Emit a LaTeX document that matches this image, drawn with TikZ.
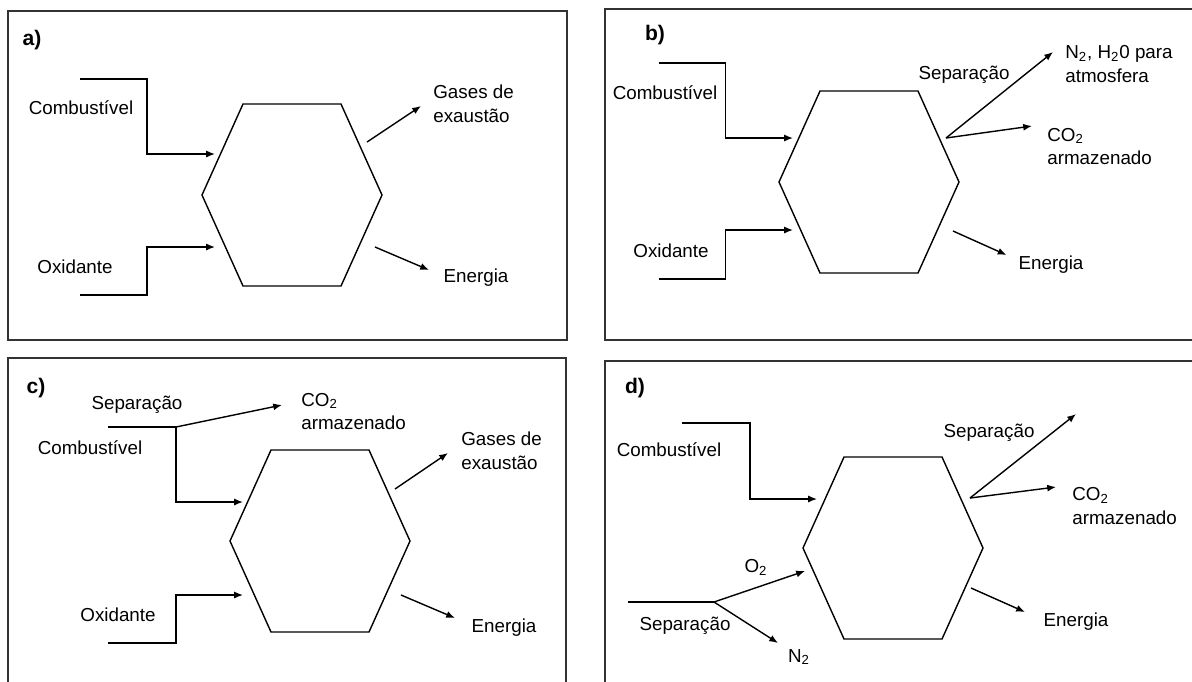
\documentclass[tikz,border=0pt]{standalone}
\usepackage{fontspec}
\setmainfont{Liberation Sans}
\usetikzlibrary{arrows.meta}
\tikzset{
  frame/.style={line width=0.9pt, color=black!80},
  flow/.style={line width=0.8pt},
  feed/.style={line width=0.8pt, -{Latex[length=5pt,width=4pt]}},
  lbl/.style={inner sep=0pt, font=\fontsize{10.7}{13.6}\selectfont, align=left},
  tag/.style={inner sep=0pt, font=\fontsize{12}{14}\selectfont\bfseries}
}
\def\reactor(#1){\draw[flow] (#1) -- ++(41,-91) -- ++(98,0) -- ++(41,91) -- ++(-41,91) -- ++(-98,0) -- cycle;}

\begin{document}
\begin{tikzpicture}[x=0.02cm, y=-0.02cm]
			%%%%% START %%%%%
			\useasboundingbox (0,0) rectangle (1192,681);
			\clip (0,0) rectangle (1192,681);
			
			%%%%% a) %%%%%
			\draw[frame] (8,11) rectangle (567,340);
			\node[tag] (tagA) at (32,40) {a)};
			\coordinate (hexA) at (202,195);
			\reactor(hexA);
			
			\coordinate (combA0) at (80,79);
			\coordinate (combA1) at (147,79);
			\coordinate (combA2) at (215,154);
			\draw[feed] (combA0) -- (combA1) |- (combA2);
			\node[lbl] (combA) at (81,108) {Combustível};
			
			\coordinate (oxA0) at (80,295);
			\coordinate (oxA1) at (147,295);
			\coordinate (oxA2) at (215,247);
			\draw[feed] (oxA0) -- (oxA1) |- (oxA2);
			\node[lbl] (oxA) at (75,267) {Oxidante};
			
			\coordinate (gasA0) at (367,142);
			\coordinate (gasA1) at (421,106);
			\draw[feed] (gasA0) -- (gasA1);
			\node[lbl, anchor=west] (gasA) at (433,103.5) {Gases de\\exaustão};
			
			\coordinate (enA0) at (375,247);
			\coordinate (enA1) at (429,270);
			\draw[feed] (enA0) -- (enA1);
			\node[lbl] (enA) at (476,278) {Energia};
			
			%%%%% b) %%%%%
			\draw[frame] (605,9) rectangle (1210,340);
			\node[tag] (tagB) at (655,35) {b)};
			\coordinate (hexB) at (779,182);
			\reactor(hexB);
			
			\coordinate (combB0) at (659,63);
			\coordinate (combB1) at (725.5,63);
			\coordinate (combB2) at (793,138);
			\draw[feed] (combB0) -- (combB1) |- (combB2);
			\node[lbl] (combB) at (665,93) {Combustível};
			
			\coordinate (oxB0) at (659,279);
			\coordinate (oxB1) at (725.5,279);
			\coordinate (oxB2) at (793,230);
			\draw[feed] (oxB0) -- (oxB1) |- (oxB2);
			\node[lbl] (oxB) at (671,251) {Oxidante};
			
			\coordinate (sepB0) at (946,138);
			\coordinate (sepB1) at (1053,52);
			\coordinate (sepB2) at (1032,126);
			\draw[feed] (sepB0) -- (sepB1);
			\draw[feed] (sepB0) -- (sepB2);
			\node[lbl] (sepB) at (964,75) {Separação};
			\node[lbl, anchor=west] (atmB) at (1065,64) {N\textsubscript{2}, H\textsubscript{2}0 para\\atmosfera};
			\node[lbl, anchor=west] (co2B) at (1047,146.5) {CO\textsubscript{2}\\armazenado};
			
			\coordinate (enB0) at (953,231);
			\coordinate (enB1) at (1006.5,255);
			\draw[feed] (enB0) -- (enB1);
			\node[lbl] (enB) at (1051,265) {Energia};
			
			%%%%% c) %%%%%
			\draw[frame] (8,358) rectangle (566,700);
			\node[tag] (tagC) at (36,388) {c)};
			\coordinate (hexC) at (230,541);
			\reactor(hexC);
			
			\coordinate (combC0) at (108,427);
			\coordinate (combC1) at (176,427);
			\coordinate (combC2) at (243,502);
			\draw[feed] (combC0) -- (combC1) |- (combC2);
			\node[lbl] (combC) at (90,448) {Combustível};
			
			\coordinate (sepC1) at (282,405);
			\draw[feed] (combC1) -- (sepC1);
			\node[lbl] (sepC) at (137,405) {Separação};
			\node[lbl, anchor=west] (co2C) at (301,411.5) {CO\textsubscript{2}\\armazenado};
			
			\coordinate (oxC0) at (108,643);
			\coordinate (oxC1) at (176,643);
			\coordinate (oxC2) at (243,595);
			\draw[feed] (oxC0) -- (oxC1) |- (oxC2);
			\node[lbl] (oxC) at (118,615) {Oxidante};
			
			\coordinate (gasC0) at (395,489);
			\coordinate (gasC1) at (448,453);
			\draw[feed] (gasC0) -- (gasC1);
			\node[lbl, anchor=west] (gasC) at (461,451) {Gases de\\exaustão};
			
			\coordinate (enC0) at (401,595);
			\coordinate (enC1) at (455,618);
			\draw[feed] (enC0) -- (enC1);
			\node[lbl] (enC) at (504,628) {Energia};
			
			%%%%% d) %%%%%
			\draw[frame] (605,361) rectangle (1210,700);
			\node[tag] (tagD) at (635,388) {d)};
			\coordinate (hexD) at (803,548);
			\reactor(hexD);
			
			\coordinate (combD0) at (682,423);
			\coordinate (combD1) at (750,423);
			\coordinate (combD2) at (817,499);
			\draw[feed] (combD0) -- (combD1) |- (combD2);
			\node[lbl] (combD) at (669,450) {Combustível};
			
			\coordinate (sepD0) at (970,498);
			\coordinate (sepD1) at (1076,414);
			\coordinate (sepD2) at (1056,487);
			\draw[feed] (sepD0) -- (sepD1);
			\draw[feed] (sepD0) -- (sepD2);
			\node[lbl] (sepD) at (989,433) {Separação};
			\node[lbl, anchor=west] (co2D) at (1072,506) {CO\textsubscript{2}\\armazenado};
			
			\coordinate (enD0) at (971,588);
			\coordinate (enD1) at (1025,612);
			\draw[feed] (enD0) -- (enD1);
			\node[lbl] (enD) at (1076,622) {Energia};
			
			\coordinate (airD0) at (628,602);
			\coordinate (airD1) at (714,602);
			\coordinate (oxyD) at (805,571);
			\coordinate (nitD) at (778,643);
			\draw[flow] (airD0) -- (airD1);
			\draw[feed] (airD1) -- (oxyD);
			\draw[feed] (airD1) -- (nitD);
			\node[lbl] (o2D) at (756,567) {O\textsubscript{2}};
			\node[lbl] (sepD3) at (685,626) {Separação};
			\node[lbl] (n2D) at (799,657) {N\textsubscript{2}};
			
			%%%%% END %%%%%
\end{tikzpicture}
\end{document}
